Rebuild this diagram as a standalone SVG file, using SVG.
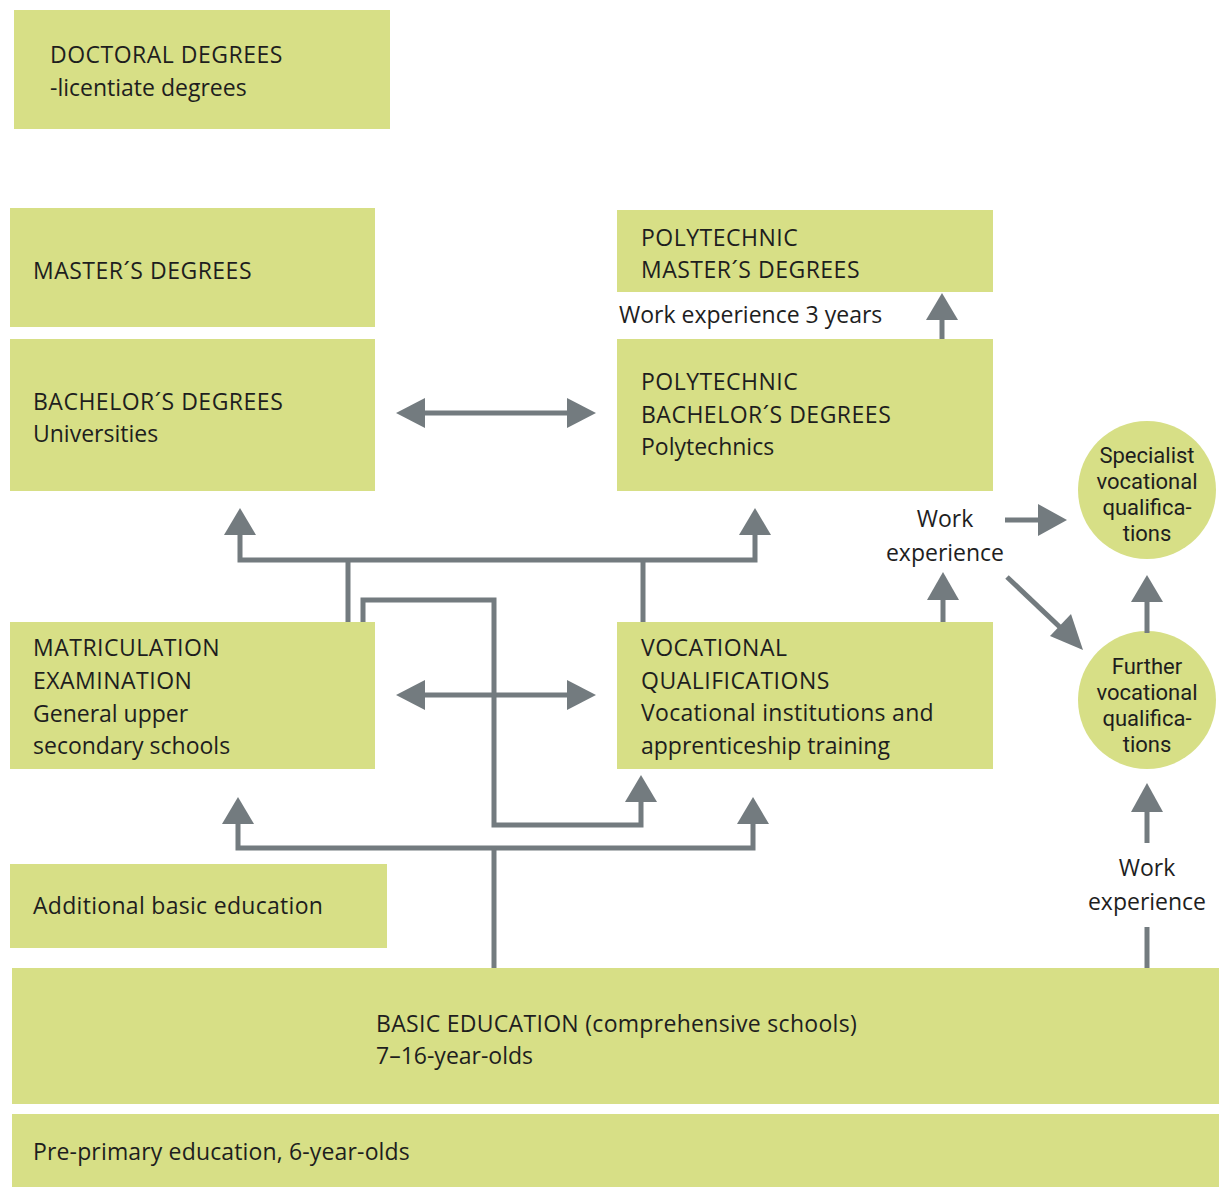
<svg xmlns="http://www.w3.org/2000/svg" width="1219" height="1187" viewBox="0 0 1219 1187">
<defs>
<style>
.box{fill:#d7df86;}
.t{font-family:"Open Sans","Noto Sans","Liberation Sans",sans-serif;font-size:23px;fill:#1e1e1e;}
.u{letter-spacing:0.5px;}
.c{font-family:Roboto,"Open Sans","Liberation Sans",sans-serif;font-size:22px;fill:#1e1e1e;text-anchor:middle;}
.ln{fill:none;stroke:#737b7f;stroke-width:5;}
.ah{fill:#737b7f;}
</style>
</defs>
<rect width="1219" height="1187" fill="#ffffff"/>
<g id="doctoral"><rect class="box" x="14" y="10" width="376" height="119"/><text class="t u" x="50" y="63">DOCTORAL DEGREES</text><text class="t" x="50" y="96">-licentiate degrees</text></g>
<g id="masters"><rect class="box" x="10" y="208" width="365" height="119"/><text class="t u" x="33" y="279">MASTER´S DEGREES</text></g>
<g id="bachelors"><rect class="box" x="10" y="339" width="365" height="152"/><text class="t u" x="33" y="410">BACHELOR´S DEGREES</text><text class="t" x="33" y="442">Universities</text></g>
<g id="poly-masters"><rect class="box" x="617" y="210" width="376" height="82"/><text class="t u" x="641" y="246">POLYTECHNIC</text><text class="t u" x="641" y="278">MASTER´S DEGREES</text></g>
<g id="poly-bachelors"><rect class="box" x="617" y="339" width="376" height="152"/><text class="t u" x="641" y="390">POLYTECHNIC</text><text class="t u" x="641" y="423">BACHELOR´S DEGREES</text><text class="t" x="641" y="455">Polytechnics</text></g>
<g id="matriculation"><rect class="box" x="10" y="622" width="365" height="147"/><text class="t u" x="33" y="656">MATRICULATION</text><text class="t u" x="33" y="689">EXAMINATION</text><text class="t" x="33" y="722">General upper</text><text class="t" x="33" y="754">secondary schools</text></g>
<g id="vocational"><rect class="box" x="617" y="622" width="376" height="147"/><text class="t u" x="641" y="656">VOCATIONAL</text><text class="t u" x="641" y="689">QUALIFICATIONS</text><text class="t" x="641" y="721" letter-spacing="0.3">Vocational institutions and</text><text class="t" x="641" y="754">apprenticeship training</text></g>
<g id="additional"><rect class="box" x="10" y="864" width="377" height="84"/><text class="t" x="33" y="914" letter-spacing="0.3">Additional basic education</text></g>
<g id="basic"><rect class="box" x="12" y="968" width="1207" height="136"/><text class="t" x="376" y="1032" letter-spacing="0.3">BASIC EDUCATION (comprehensive schools)</text><text class="t" x="376" y="1064">7–16-year-olds</text></g>
<g id="preprimary"><rect class="box" x="12" y="1114" width="1207" height="73"/><text class="t" x="33" y="1160" letter-spacing="0.15">Pre-primary education, 6-year-olds</text></g>
<g id="specialist"><circle class="box" cx="1147" cy="490" r="69"/><text class="c" x="1147" y="463">Specialist</text><text class="c" x="1147" y="489">vocational</text><text class="c" x="1147" y="515">qualifica-</text><text class="c" x="1147" y="541">tions</text></g>
<g id="further"><circle class="box" cx="1147" cy="700" r="69"/><text class="c" x="1147" y="674">Further</text><text class="c" x="1147" y="700">vocational</text><text class="c" x="1147" y="726">qualifica-</text><text class="c" x="1147" y="752">tions</text></g>
<g id="labels">
<text class="t" x="619" y="323">Work experience 3 years</text>
<text class="t" x="945" y="527" text-anchor="middle">Work</text><text class="t" x="945" y="561" text-anchor="middle">experience</text>
<text class="t" x="1147" y="876" text-anchor="middle">Work</text><text class="t" x="1147" y="910" text-anchor="middle">experience</text>
</g>
<g id="connectors">
<line class="ln" x1="420" y1="413" x2="572" y2="413"/>
<polygon class="ah" points="396,413 425,398 425,428"/><polygon class="ah" points="596,413 567,398 567,428"/>
<line class="ln" x1="420" y1="695" x2="572" y2="695"/>
<polygon class="ah" points="396,695 425,680 425,710"/><polygon class="ah" points="596,695 567,680 567,710"/>
<polyline class="ln" points="240,532 240,560 755,560 755,532"/>
<line class="ln" x1="348" y1="560" x2="348" y2="622"/>
<line class="ln" x1="643" y1="560" x2="643" y2="622"/>
<polygon class="ah" points="240,508 224,535 256,535"/><polygon class="ah" points="755,508 739,535 771,535"/>
<polyline class="ln" points="363,622 363,600 494,600 494,825 641,825 641,798"/>
<polygon class="ah" points="641,775 625,802 657,802"/>
<polyline class="ln" points="238,820 238,848 753,848 753,820"/>
<line class="ln" x1="494" y1="848" x2="494" y2="968"/>
<polygon class="ah" points="238,797 222,824 254,824"/><polygon class="ah" points="753,797 737,824 769,824"/>
<line class="ln" x1="942" y1="339" x2="942" y2="316"/>
<polygon class="ah" points="942,293 926,320 958,320"/>
<line class="ln" x1="943" y1="622" x2="943" y2="596"/>
<polygon class="ah" points="943,572 927,600 959,600"/>
<line class="ln" x1="1005" y1="520" x2="1042" y2="520"/>
<polygon class="ah" points="1067,520 1038,504 1038,536"/>
<line class="ln" x1="1007" y1="577" x2="1064" y2="631"/>
<polygon class="ah" points="1083,650 1050,636 1071,614"/>
<line class="ln" x1="1147" y1="633" x2="1147" y2="596"/>
<polygon class="ah" points="1147,575 1131,602 1163,602"/>
<line class="ln" x1="1147" y1="968" x2="1147" y2="927"/>
<line class="ln" x1="1147" y1="843" x2="1147" y2="808"/>
<polygon class="ah" points="1147,783 1131,812 1163,812"/>
</g>
</svg>
